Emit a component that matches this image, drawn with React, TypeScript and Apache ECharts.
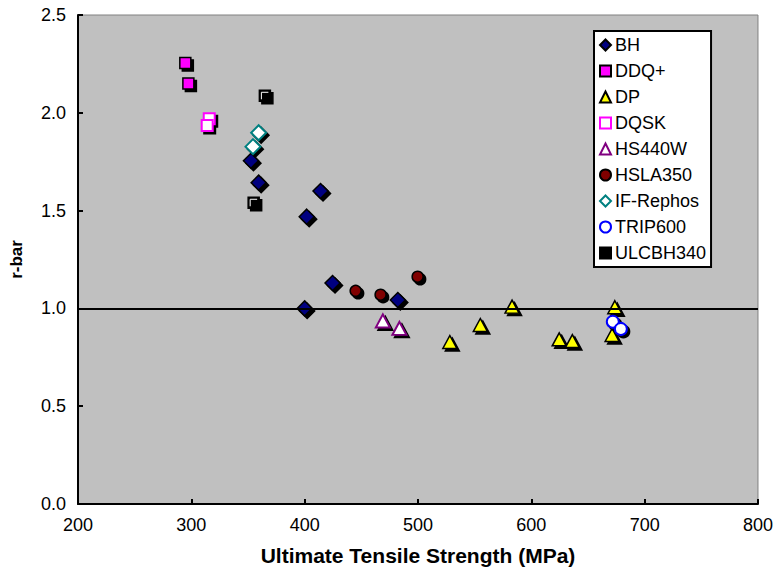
import React, { useEffect, useRef } from "react";
import * as echarts from "echarts";

const seriesNames = ["BH", "DDQ+", "DP", "DQSK", "HS440W", "HSLA350", "IF-Rephos", "TRIP600", "ULCBH340"];

const bhX = [352.6, 359.4, 414.0, 401.8, 400.0, 424.6, 482.2];
const bhY = [1.755, 1.643, 1.6, 1.469, 1.0, 1.13, 1.043];
const ddqX = [294.7, 297.4];
const ddqY = [2.255, 2.15];
const dpX = [528.1, 555.0, 583.0, 624.6, 636.2, 673.7, 671.3];
const dpY = [0.828, 0.915, 1.009, 0.842, 0.833, 1.006, 0.864];
const dqskX = [315.8, 314.0];
const dqskY = [1.97, 1.935];
const hs440X = [469.0, 483.6];
const hs440Y = [0.936, 0.898];
const hslaX = [445.0, 467.0, 499.7];
const hslaY = [1.09, 1.07, 1.162];
const ifX = [359.4, 354.4];
const ifY = [1.898, 1.827];
const tripX = [671.9, 679.0];
const tripY = [0.932, 0.895];
const ulcX = [364.9, 355.0];
const ulcY = [2.087, 1.54];

const xTicks = { min: 200, max: 800, interval: 100 };
const yTicks = { min: 0, max: 2.5, interval: 0.5 };
const refLineY = 1.0;

const FONT = "'Liberation Sans', Arial, sans-serif";

const zip = (xs: number[], ys: number[]) => xs.map((x, i) => [x, ys[i]]);

type Style = {
  name: string;
  xs: number[];
  ys: number[];
  symbol: string;
  size: number | number[];
  fill: string;
  border: string;
  bw: number;
};

const styles: Style[] = [
  { name: "BH", xs: bhX, ys: bhY, symbol: "diamond", size: 15, fill: "#000080", border: "#000000", bw: 1.5 },
  { name: "DDQ+", xs: ddqX, ys: ddqY, symbol: "rect", size: 11, fill: "#FF00FF", border: "#000000", bw: 1.5 },
  { name: "DP", xs: dpX, ys: dpY, symbol: "triangle", size: [14, 13], fill: "#FFFF00", border: "#000000", bw: 1.5 },
  { name: "DQSK", xs: dqskX, ys: dqskY, symbol: "rect", size: 11, fill: "#FFFFFF", border: "#FF00FF", bw: 2 },
  { name: "HS440W", xs: hs440X, ys: hs440Y, symbol: "triangle", size: [14, 13], fill: "#FFFFFF", border: "#800080", bw: 2 },
  { name: "HSLA350", xs: hslaX, ys: hslaY, symbol: "circle", size: 11, fill: "#800000", border: "#000000", bw: 1.5 },
  { name: "IF-Rephos", xs: ifX, ys: ifY, symbol: "diamond", size: 15, fill: "#FFFFFF", border: "#008080", bw: 2 },
  { name: "TRIP600", xs: tripX, ys: tripY, symbol: "circle", size: 12, fill: "#FFFFFF", border: "#0000FF", bw: 2 },
  { name: "ULCBH340", xs: ulcX, ys: ulcY, symbol: "rect", size: 11, fill: "#000000", border: "#000000", bw: 1.5 },
];

export default function App() {
  const ref = useRef<HTMLDivElement>(null);
  useEffect(() => {
    if (!ref.current) return;
    const chart = echarts.init(ref.current, null, { renderer: "svg" });
    const series: any[] = [
      {
        name: "ref",
        type: "scatter",
        data: [],
        silent: true,
        markLine: {
          silent: true,
          symbol: ["none", "none"],
          label: { show: false },
          lineStyle: { color: "#000", width: 2, type: "solid" },
          data: [{ yAxis: refLineY }],
        },
      },
    ];
    styles.forEach((s) => {
      const data = zip(s.xs, s.ys);
      series.push({
        name: s.name + "-shadow",
        type: "scatter",
        data,
        symbol: s.symbol,
        symbolSize: s.size,
        symbolOffset: [2.5, 2.5],
        silent: true,
        itemStyle: { color: "#000", borderColor: "#000", borderWidth: s.bw, opacity: 1 },
      });
      series.push({
        name: s.name,
        type: "scatter",
        data,
        symbol: s.symbol,
        symbolSize: s.size,
        itemStyle: { color: s.fill, borderColor: s.border, borderWidth: s.bw, opacity: 1 },
      });
      if (s.name === "ULCBH340") {
        series.push({
          name: s.name + "-hl",
          type: "scatter",
          data,
          symbol: "path://M0,10V0H10",
          symbolSize: 7,
          silent: true,
          itemStyle: { color: "none", borderColor: "#fff", borderWidth: 1, opacity: 1 },
        });
      }
    });

    chart.setOption({
      animation: false,
      textStyle: { fontFamily: FONT },
      grid: {
        left: 76,
        right: 16,
        top: 15,
        bottom: 77,
        show: true,
        backgroundColor: "#C0C0C0",
        borderColor: "#808080",
        borderWidth: 1,
      },
      legend: {
        data: seriesNames,
        orient: "vertical",
        left: 594,
        top: 31,
        backgroundColor: "#fff",
        borderColor: "#000",
        borderWidth: 2,
        borderRadius: 0,
        padding: [5, 5, 5, 5],
        itemWidth: 11,
        itemHeight: 11,
        itemGap: 8,
        selectedMode: false,
        textStyle: { fontFamily: FONT, fontSize: 18, color: "#000", lineHeight: 18, padding: [0, 0, 0, -1] },
      },
      xAxis: {
        type: "value",
        min: xTicks.min,
        max: xTicks.max,
        interval: xTicks.interval,
        name: "Ultimate Tensile Strength (MPa)",
        nameLocation: "middle",
        nameGap: 41,
        nameTextStyle: { fontFamily: FONT, fontSize: 21, fontWeight: "bold", color: "#000" },
        axisLine: { show: true, onZero: false, lineStyle: { color: "#000", width: 2 } },
        axisTick: { show: true, inside: true, length: 5, lineStyle: { color: "#000", width: 2 } },
        axisLabel: { fontFamily: FONT, fontSize: 18, color: "#000", margin: 12 },
        splitLine: { show: false },
      },
      yAxis: {
        type: "value",
        min: yTicks.min,
        max: yTicks.max,
        interval: yTicks.interval,
        name: "r-bar",
        nameLocation: "middle",
        nameGap: 53,
        nameTextStyle: { fontFamily: FONT, fontSize: 17, fontWeight: "bold", color: "#000" },
        axisLine: { show: true, onZero: false, lineStyle: { color: "#000", width: 2 } },
        axisTick: { show: true, inside: true, length: 5, lineStyle: { color: "#000", width: 2 } },
        axisLabel: { fontFamily: FONT, fontSize: 18, color: "#000", margin: 12, formatter: (v: number) => v.toFixed(1) },
        splitLine: { show: false },
      },
      series,
    });
    return () => chart.dispose();
  }, []);
  return <div ref={ref} style={{ width: 776, height: 581, position: "absolute", left: 0, top: 0 }} />;
}
